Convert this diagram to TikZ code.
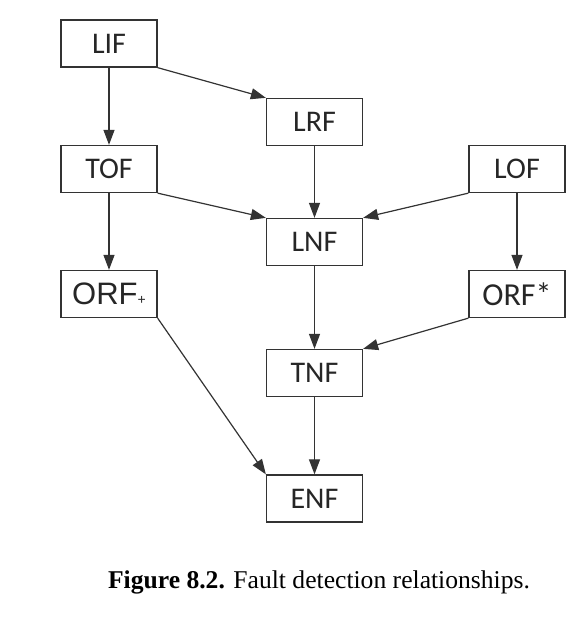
\documentclass[tikz,border=0pt]{standalone}
\usepackage{fontspec}
\setmainfont{Liberation Serif}
\newfontfamily\boxfont{Carlito}
\newfontfamily\arialfont{Liberation Sans}
\usetikzlibrary{arrows.meta}

\begin{document}
\begin{tikzpicture}[x=1pt, y=-1pt, >={Triangle[length=15pt,width=11pt]},
      fault/.style={rectangle, draw=black!80, line width=1.3pt, minimum width=96pt, minimum height=47pt, inner sep=0pt, font=\boxfont\fontsize{30}{33}\selectfont, text=black!85},
      link/.style={draw=black!80, line width=1.2pt}]
      \useasboundingbox (0,0) rectangle (580,617);
      \node[fault](lif) at (109, 43.5){LIF};
      \node[fault](lrf) at (314.5, 122){LRF};
      \node[fault](tof) at (109, 169){TOF};
      \node[fault](lof) at (517, 169){LOF};
      \node[fault](lnf) at (314.5, 242){LNF};
      \node[fault,font=\arialfont\fontsize{31}{34}\selectfont](orfp) at (109, 294){ORF{\fontsize{14}{16}\selectfont+}};
      \node[fault,font=\boxfont\fontsize{32}{35}\selectfont](orfs) at (517, 294){ORF*};
      \node[fault](tnf) at (314.5, 373){TNF};
      \node[fault](enf) at (314.5, 498.5){ENF};
      \draw[link,->] (lif) -- (tof);
      \draw[link,->] (lif.south east) -- (lrf.north west);
      \draw[link,->] (lrf) -- (lnf);
      \draw[link,->] (tof.south east) -- (lnf.north west);
      \draw[link,->] (lof.south west) -- (lnf.north east);
      \draw[link,->] (tof) -- (orfp);
      \draw[link,->] (lof) -- (orfs);
      \draw[link,->] (lnf) -- (tnf);
      \draw[link,->] (orfs.south west) -- (tnf.north east);
      \draw[link,->] (orfp.south east) -- (enf.north west);
      \draw[link,->] (tnf) -- (enf);
      \node[anchor=base, font=\fontsize{25.6}{30}\selectfont](caption) at (319, 588){\textbf{Figure 8.2.} Fault detection relationships.};
    \end{tikzpicture}
\end{document}
